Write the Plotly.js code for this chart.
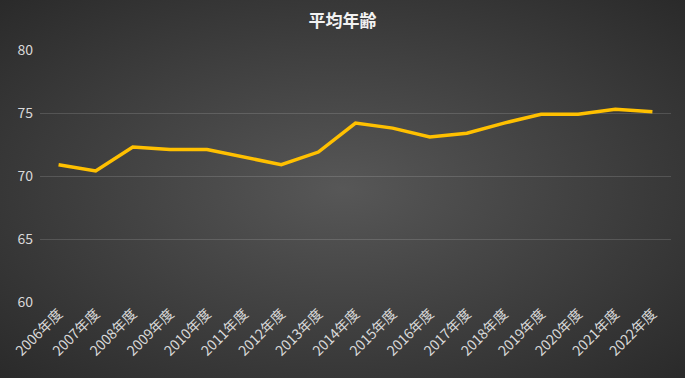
<!DOCTYPE html>
<html>
<head>
<meta charset="utf-8">
<script src="https://cdn.plot.ly/plotly-3.0.1.min.js"></script>
<style>
  html, body { margin: 0; padding: 0; }
  body {
    width: 685px; height: 378px; overflow: hidden;
    background: radial-gradient(ellipse at 50% 50%, #575757 0%, #474747 35%, #2a2a2a 100%);
  }
  #chart { width: 685px; height: 378px; }
</style>
</head>
<body>
<div id="chart"></div>
<script>
const years = ["2006年度","2007年度","2008年度","2009年度","2010年度","2011年度","2012年度","2013年度","2014年度","2015年度","2016年度","2017年度","2018年度","2019年度","2020年度","2021年度","2022年度"];
const avgAge = [70.9, 70.4, 72.3, 72.1, 72.1, 71.5, 70.9, 71.9, 74.2, 73.8, 73.1, 73.4, 74.2, 74.9, 74.9, 75.3, 75.1];
const yTicks = [60, 65, 70, 75, 80];
const titleText = "<b>平均年齢</b>";

const trace = {
  x: years,
  y: avgAge,
  type: "scatter",
  mode: "lines",
  line: { color: "#FFC000", width: 3.5 },
  hoverinfo: "x+y"
};

const layout = {
  width: 685, height: 378,
  paper_bgcolor: "rgba(0,0,0,0)",
  plot_bgcolor: "rgba(0,0,0,0)",
  margin: { l: 40, r: 14, t: 50, b: 76 },
  showlegend: false,
  font: { family: "'Noto Sans CJK JP', 'Noto Sans', sans-serif", color: "#d9d9d9" },
  title: {
    text: titleText,
    x: 0.5, xanchor: "center",
    y: 0.945, yanchor: "middle",
    font: { size: 17, color: "#f2f2f2", family: "'Noto Sans CJK JP', sans-serif" }
  },
  xaxis: {
    type: "category",
    range: [-0.5, years.length - 0.5],
    tickangle: -45,
    tickfont: { size: 14, color: "#d9d9d9" },
    showgrid: false,
    showline: false,
    zeroline: false,
    ticks: ""
  },
  yaxis: {
    range: [60, 80],
    tickvals: yTicks,
    ticktext: yTicks.map(String),
    tickfont: { size: 14, color: "#d9d9d9" },
    gridcolor: "rgba(255,255,255,0.14)",
    gridwidth: 1,
    zeroline: false,
    showline: false,
    ticks: "",
    ticklabelstandoff: 6
  }
};

Plotly.newPlot("chart", [trace], layout, { displayModeBar: false, staticPlot: true });
</script>
</body>
</html>
